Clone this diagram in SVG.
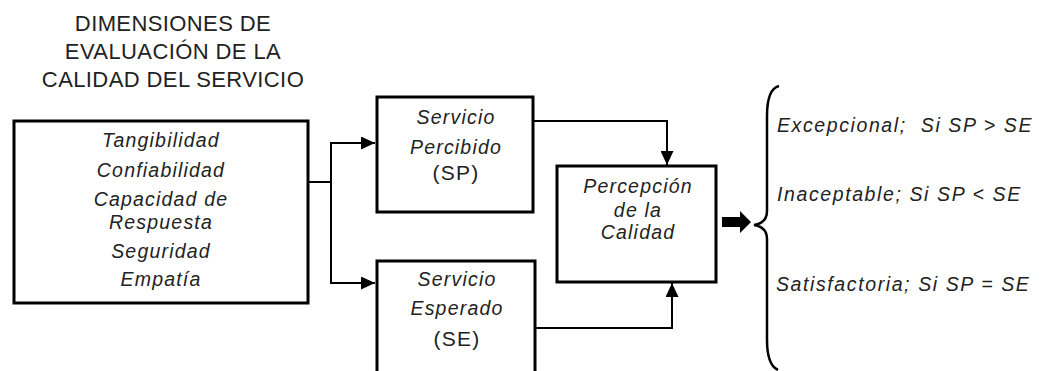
<svg xmlns="http://www.w3.org/2000/svg" width="1042" height="371" viewBox="0 0 1042 371">
<style>
.box{fill:#fff;stroke:#000;stroke-width:3}
.ln{fill:none;stroke:#000;stroke-width:2}
.t{font-family:"Liberation Sans",Arial,sans-serif;font-style:italic;font-size:19.5px;letter-spacing:1.2px;fill:#222;text-anchor:middle}
.p{font-family:"Liberation Sans",Arial,sans-serif;font-size:21px;letter-spacing:1.2px;fill:#222;text-anchor:middle}
.h{font-family:"Liberation Sans",Arial,sans-serif;font-size:22px;letter-spacing:0.4px;fill:#222;text-anchor:middle}
.r{font-family:"Liberation Sans",Arial,sans-serif;font-style:italic;font-size:19.5px;letter-spacing:1.6px;fill:#222}
</style>
<defs>
<marker id="ah" markerUnits="userSpaceOnUse" markerWidth="15" markerHeight="13" refX="14" refY="6.5" orient="auto">
<path d="M0,0 L14,6.5 L0,13 z" fill="#000"/>
</marker>
</defs>
<g id="title">
<text class="h" x="173" y="31">DIMENSIONES DE</text>
<text class="h" x="173" y="59">EVALUACIÓN DE LA</text>
<text class="h" x="173" y="87">CALIDAD DEL SERVICIO</text>
</g>
<g id="dimensiones">
<rect class="box" x="14" y="121" width="294" height="182"/>
<text class="t" x="161" y="147">Tangibilidad</text>
<text class="t" x="161" y="177">Confiabilidad</text>
<text class="t" x="161" y="206">Capacidad de</text>
<text class="t" x="161" y="229">Respuesta</text>
<text class="t" x="161" y="258">Seguridad</text>
<text class="t" x="161" y="286">Empatía</text>
</g>
<g id="sp">
<rect class="box" x="377" y="97" width="156" height="115"/>
<text class="t" x="456" y="124">Servicio</text>
<text class="t" x="456" y="154">Percibido</text>
<text class="p" x="456" y="180">(SP)</text>
</g>
<g id="se">
<rect class="box" x="377" y="261" width="158" height="125"/>
<text class="t" x="457" y="286">Servicio</text>
<text class="t" x="457" y="315">Esperado</text>
<text class="p" x="457" y="346">(SE)</text>
</g>
<g id="percepcion">
<rect class="box" x="557" y="166" width="159" height="116"/>
<text class="t" x="638" y="193">Percepción</text>
<text class="t" x="638" y="217">de la</text>
<text class="t" x="638" y="239">Calidad</text>
</g>
<g id="resultados">
<path d="M779,86 Q767,89 767,116 L767,211 Q767,223 754,225 Q767,227 767,239 L767,340 Q767,365 778,370" fill="none" stroke="#000" stroke-width="2.5"/>
<text class="r" x="777" y="132" xml:space="preserve">Excepcional;  Si SP &gt; SE</text>
<text class="r" x="777" y="201">Inaceptable; Si SP &lt; SE</text>
<text class="r" x="776" y="291">Satisfactoria; Si SP = SE</text>
</g>
<g id="connectors">
<path class="ln" d="M308,182 H331"/>
<path class="ln" d="M331,143 V283"/>
<path class="ln" d="M330,143 H375" marker-end="url(#ah)"/>
<path class="ln" d="M330,283 H375" marker-end="url(#ah)"/>
<path class="ln" d="M533,121 H667 V165" marker-end="url(#ah)"/>
<path class="ln" d="M535,328 H672 V283" marker-end="url(#ah)"/>
<polygon points="722,217 740,217 740,211 751,222 740,233 740,227 722,227" fill="#000"/>
</g>
</svg>
